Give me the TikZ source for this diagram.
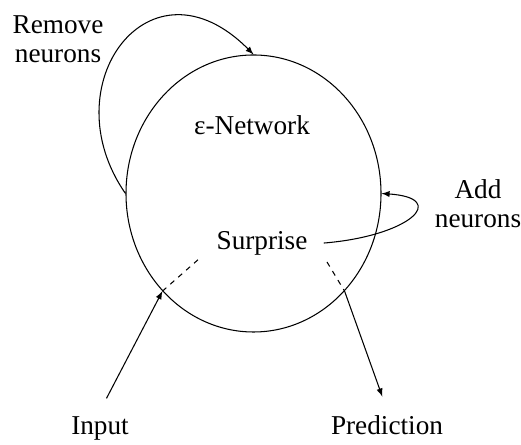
\documentclass[tikz,border=0pt]{standalone}
\usepackage{fontspec}
\setmainfont{Liberation Serif}
\usetikzlibrary{shapes.geometric}
\tikzset{lbl/.style={font=\fontsize{15.5}{17}\selectfont, align=center}}

\begin{document}
\begin{tikzpicture}[line width=0.6pt]
        \useasboundingbox (0,0) rectangle (10.42,8.9);
        \node[draw, ellipse, minimum width=5.1cm, minimum height=5.54cm] (net) at (5.07,5.03) {};
        \node[lbl, anchor=base] (title) at (5.04,6.2) {ε-Network};
        \node[lbl, anchor=base] (surprise) at (5.24,3.9) {Surprise};
        \node[lbl, anchor=base] (remove) at (1.16,7.64) {Remove\\neurons};
        \node[lbl, anchor=base] (add) at (9.56,4.34) {Add\\neurons};
        \node[lbl, anchor=base] (input) at (2.0,0.2) {Input};
        \node[lbl, anchor=base] (pred) at (7.74,0.2) {Prediction};
        \coordinate (inend) at (4.0,3.74);
        \coordinate (predstart) at (6.54,3.66);
        \draw[-latex] (net.180) .. controls (1.0,7.2) and (3.0,9.9) .. (net.north);
        \draw[-latex, shorten <=0.2cm] (surprise.east) .. controls (8.2,4.18) and (9.0,4.94) .. (net.east);
        \draw[-latex, shorten <=0.28cm] (input.north) -- (net.227);
        \draw[dashed] (net.227) -- (inend);
        \draw[dashed] (predstart) -- (net.313);
        \draw[-latex, shorten >=0.28cm] (net.313) -- (pred.north);
\end{tikzpicture}
\end{document}
